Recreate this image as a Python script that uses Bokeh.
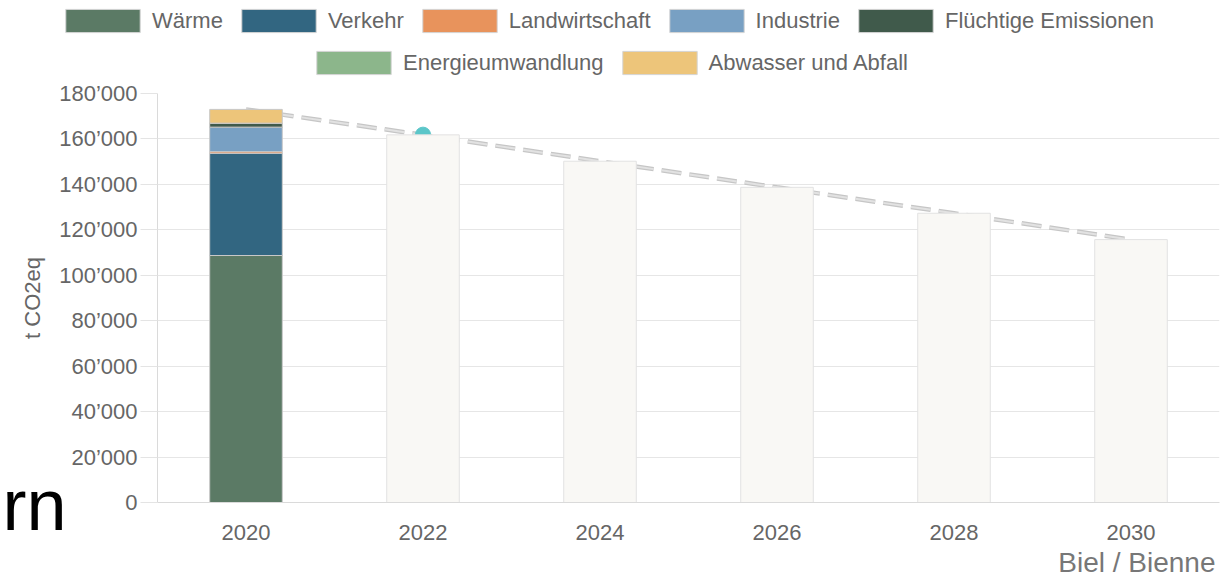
from bokeh.plotting import figure
from bokeh.models import (Range1d, FactorRange, FixedTicker, Legend, LegendItem,
                          Label, ColumnDataSource)
from bokeh.embed import file_html
from bokeh.resources import INLINE

# ---------------- data ----------------
jahre = ["2020", "2022", "2024", "2026", "2028", "2030"]
sektoren = ["Wärme", "Verkehr", "Landwirtschaft", "Industrie",
            "Flüchtige Emissionen", "Energieumwandlung", "Abwasser und Abfall"]
farben = ["#5b7a65", "#326681", "#e8935c", "#78a0c3", "#405a4b", "#8cb68b", "#edc57a"]
emissionen_2020 = [108700, 45000, 700, 10800, 1750, 0, 6050]
absenkpfad = [173000, 161800, 150200, 138700, 127300, 115700]
ist_jahr = ["2022"]
ist_wert = [161900]
y_ticks = [0, 20000, 40000, 60000, 80000, 100000, 120000, 140000, 160000, 180000]
y_tick_labels = ["0", "20’000", "40’000", "60’000", "80’000", "100’000",
                 "120’000", "140’000", "160’000", "180’000"]
y_titel = "t CO2eq"
ort = "Biel / Bienne"
kopf = "Bern"

FONT = "Liberation Sans"
GREY = "#666666"
W, H = 1228, 577

# ---------------- main chart ----------------
p = figure(x_range=FactorRange(factors=jahre, range_padding=0),
           y_range=Range1d(0, 180000),
           width=W, height=H, output_backend="svg", toolbar_location=None,
           min_border_left=157, min_border_right=9, min_border_top=93,
           min_border_bottom=75)
p.outline_line_color = None
p.background_fill_color = "white"
p.border_fill_color = "white"

# target path (dashed)
p.line(x=jahre, y=absenkpfad, line_color="#c6c6c6", line_width=4.5, line_dash="20 8")
p.line(x=jahre, y=absenkpfad, line_color="#e2e2e2", line_width=2, line_dash="20 8")

# actual point
p.scatter(x=ist_jahr, y=ist_wert, size=15, fill_color="#5bc6c9", line_color="#5bc6c9")

# target bars
p.vbar(x=jahre[1:], top=absenkpfad[1:], width=0.41,
       fill_color="#f9f8f5", line_color="#e2e2e2", line_width=1)

# stacked 2020
data = {"jahr": [jahre[0]]}
for s, v in zip(sektoren, emissionen_2020):
    data[s] = [v]
src = ColumnDataSource(data)
p.vbar_stack(stackers=sektoren, x="jahr", width=0.41, source=src,
             fill_color=farben, line_color="#c8c8c8", line_width=1)

# axes
p.yaxis.ticker = FixedTicker(ticks=y_ticks)
p.yaxis.major_label_overrides = dict(zip(y_ticks, y_tick_labels))
p.ygrid.ticker = FixedTicker(ticks=y_ticks)
p.ygrid.grid_line_color = "#e6e6e6"
p.xgrid.grid_line_color = None

for ax in (p.xaxis, p.yaxis):
    ax.axis_line_color = "#dadada"
    ax.major_tick_line_color = "#e4e4e4"
    ax.minor_tick_line_color = None
    ax.major_tick_in = 0
    ax.major_label_text_font = FONT
    ax.major_label_text_font_size = "22px"
    ax.major_label_text_color = GREY

p.yaxis.major_tick_out = 17
p.yaxis.major_label_standoff = 3
p.yaxis.axis_label = y_titel
p.yaxis.axis_label_text_font = FONT
p.yaxis.axis_label_text_font_size = "22px"
p.yaxis.axis_label_text_font_style = "normal"
p.yaxis.axis_label_text_color = GREY
p.yaxis.axis_label_standoff = 11

p.xaxis.major_tick_out = 0
p.xaxis.major_label_standoff = 22

# ---------------- overlay (legend + loose texts), full-canvas frame ----------------
o = figure(x_range=Range1d(0, 1), y_range=Range1d(0, 1), width=W, height=H,
           output_backend="svg", toolbar_location=None,
           x_axis_location=None, y_axis_location=None,
           min_border=0, min_border_left=0, min_border_right=0,
           min_border_top=0, min_border_bottom=0)
o.grid.visible = False
o.outline_line_color = None
o.background_fill_alpha = 0
o.border_fill_alpha = 0
o.styles = {"margin-top": f"-{H}px"}

# legend swatch renderers (one off-range point each, only used for the legend glyph)
swatches = [o.vbar(x=[-5], top=[-5], bottom=[-6], width=0.1, fill_color=c, line_color="#d4d4d4")
            for c in farben]

common = dict(orientation="horizontal", glyph_width=93, glyph_height=29,
              label_standoff=3, spacing=9, padding=0, margin=0,
              border_line_alpha=0, background_fill_alpha=0,
              label_text_font=FONT, label_text_font_size="22px",
              label_text_color=GREY, label_height=22)
leg1 = Legend(items=[LegendItem(label=s, renderers=[r]) for s, r in zip(sektoren[:5], swatches[:5])],
              location=(56, 542), **common)
leg2 = Legend(items=[LegendItem(label=s, renderers=[r]) for s, r in zip(sektoren[5:], swatches[5:])],
              location=(307, 500), **common)
o.add_layout(leg1)
o.add_layout(leg2)

o.add_layout(Label(x=1215, y=15, x_units="screen", y_units="screen", text=ort,
                   text_align="right", text_baseline="alphabetic",
                   text_font=FONT, text_font_size="28px", text_color="#777777"))
o.add_layout(Label(x=66, y=73, x_units="screen", y_units="screen", text=kopf,
                   text_align="right", text_baseline="alphabetic",
                   text_font=FONT, text_font_size="72px", text_color="black"))

open("out.html", "w").write(file_html([p, o], INLINE))
